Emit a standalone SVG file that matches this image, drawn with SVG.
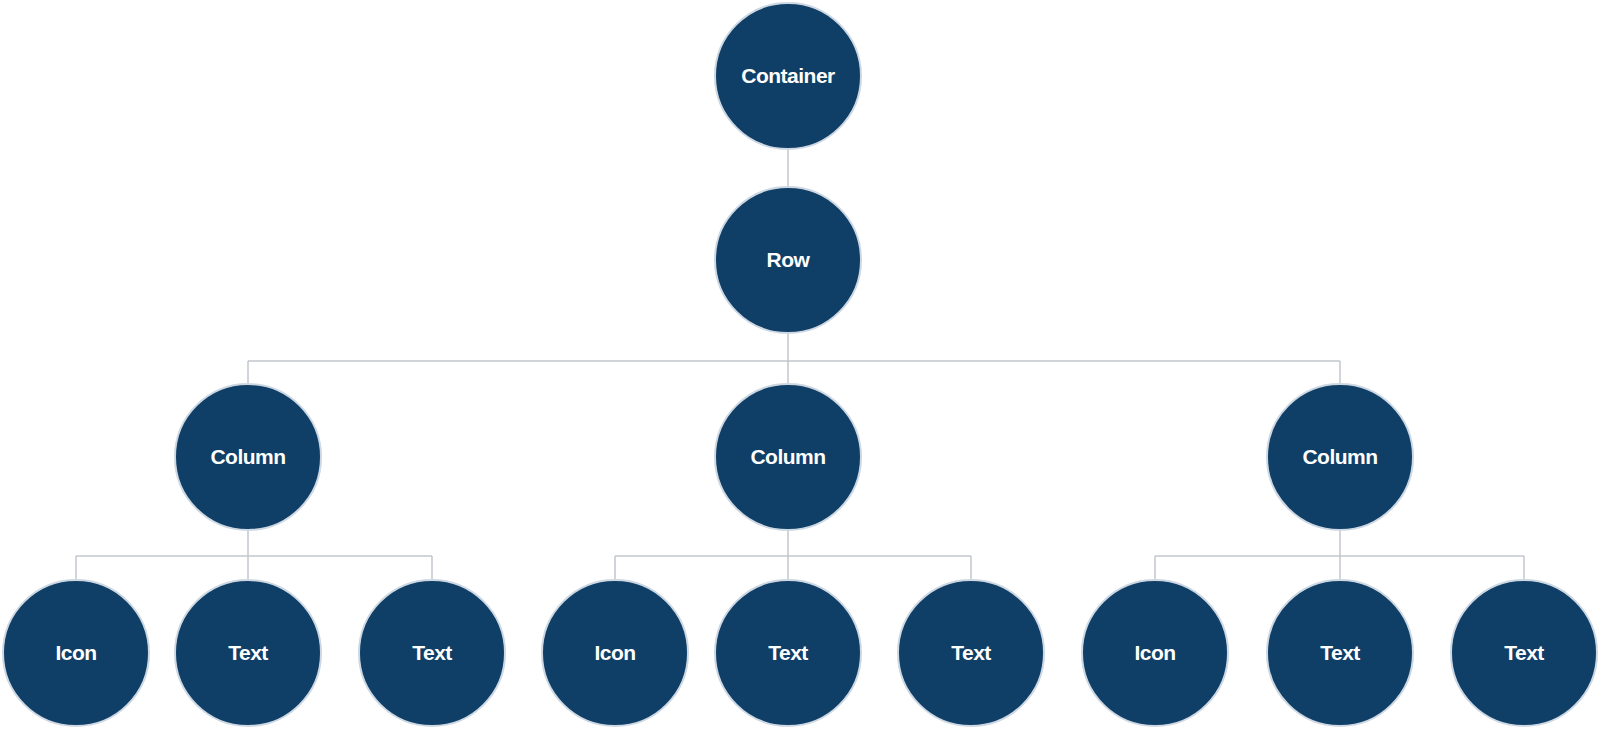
<svg xmlns="http://www.w3.org/2000/svg" width="1600" height="730" viewBox="0 0 1600 730">
<style>
.n{fill:#0f3e66;stroke:#cdd8e3;stroke-width:2}
.t{fill:#ffffff;font-family:"Liberation Sans",Arial,sans-serif;font-weight:bold;font-size:21px;letter-spacing:-0.5px;text-anchor:middle}
.c{fill:none;stroke:#c2c6cc;stroke-width:1.5}
</style>
<rect width="1600" height="730" fill="#ffffff"/>
<g id="connectors" class="c">
<path d="M788 149 V187"/>
<path d="M788 333 V361 M248 361 H1340 M248 361 V384 M1340 361 V384 M788 361 V384"/>
<path d="M248 530 V556 M76 556 H432 M76 556 V580 M248 556 V580 M432 556 V580"/>
<path d="M788 530 V556 M615 556 H971 M615 556 V580 M788 556 V580 M971 556 V580"/>
<path d="M1340 530 V556 M1155 556 H1524 M1155 556 V580 M1340 556 V580 M1524 556 V580"/>
</g>
<g id="container"><circle class="n" cx="788" cy="76" r="73"/><text class="t" x="788" y="83">Container</text></g>
<g id="row"><circle class="n" cx="788" cy="260" r="73"/><text class="t" x="788" y="267">Row</text></g>
<g id="column1"><circle class="n" cx="248" cy="457" r="73"/><text class="t" x="248" y="464">Column</text></g>
<g id="column2"><circle class="n" cx="788" cy="457" r="73"/><text class="t" x="788" y="464">Column</text></g>
<g id="column3"><circle class="n" cx="1340" cy="457" r="73"/><text class="t" x="1340" y="464">Column</text></g>
<g id="icon1"><circle class="n" cx="76" cy="653" r="73"/><text class="t" x="76" y="660">Icon</text></g>
<g id="text1a"><circle class="n" cx="248" cy="653" r="73"/><text class="t" x="248" y="660">Text</text></g>
<g id="text1b"><circle class="n" cx="432" cy="653" r="73"/><text class="t" x="432" y="660">Text</text></g>
<g id="icon2"><circle class="n" cx="615" cy="653" r="73"/><text class="t" x="615" y="660">Icon</text></g>
<g id="text2a"><circle class="n" cx="788" cy="653" r="73"/><text class="t" x="788" y="660">Text</text></g>
<g id="text2b"><circle class="n" cx="971" cy="653" r="73"/><text class="t" x="971" y="660">Text</text></g>
<g id="icon3"><circle class="n" cx="1155" cy="653" r="73"/><text class="t" x="1155" y="660">Icon</text></g>
<g id="text3a"><circle class="n" cx="1340" cy="653" r="73"/><text class="t" x="1340" y="660">Text</text></g>
<g id="text3b"><circle class="n" cx="1524" cy="653" r="73"/><text class="t" x="1524" y="660">Text</text></g>
</svg>
